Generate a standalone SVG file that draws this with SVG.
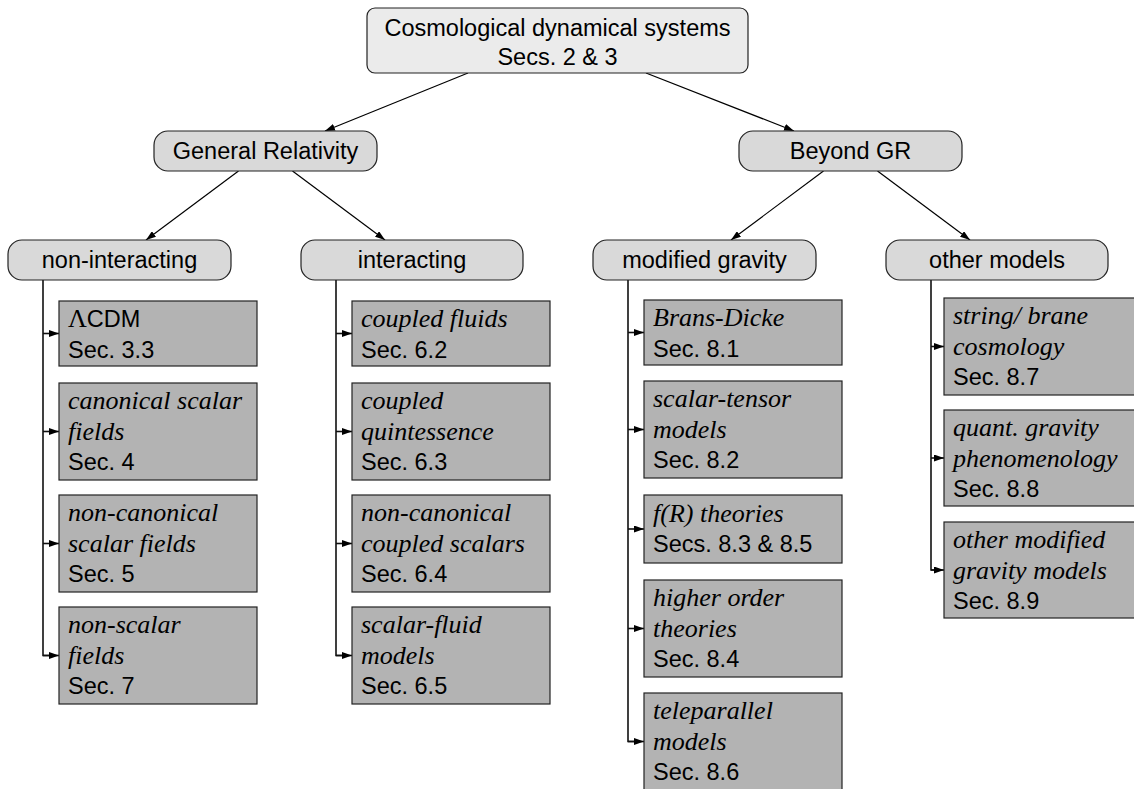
<svg xmlns="http://www.w3.org/2000/svg" width="1134" height="789" viewBox="0 0 1134 789">
<defs>
<style>
.root{fill:#ebebeb;stroke:#222;stroke-width:1.2}
.mid{fill:#d9d9d9;stroke:#222;stroke-width:1.2}
.leaf{fill:#b3b3b3;stroke:#222;stroke-width:1.2}
.sans{font-family:"Liberation Sans",Arial,sans-serif;font-size:23.5px;fill:#000}
.it{font-family:"Liberation Serif","Times New Roman",serif;font-style:italic;font-size:26px;fill:#000}
.c{text-anchor:middle}
.ln{stroke:#000;stroke-width:1.2;fill:none}
.tr{stroke:#111;stroke-width:1.6;fill:none}
</style>
<marker id="ah" markerUnits="userSpaceOnUse" markerWidth="10" markerHeight="7" refX="10" refY="3.5" orient="auto">
<path d="M0,0 L10,3.5 L0,7 z" fill="#000"/>
</marker>
<marker id="sh" markerUnits="userSpaceOnUse" markerWidth="10" markerHeight="7" refX="10" refY="3.5" orient="auto">
<path d="M0,0 L10,3.5 L0,7 z" fill="#000"/>
</marker>
</defs>

<g id="connectors">
<line class="ln" x1="468" y1="73" x2="325" y2="131" marker-end="url(#ah)"/>
<line class="ln" x1="646" y1="73" x2="794" y2="131" marker-end="url(#ah)"/>
<line class="ln" x1="238.5" y1="171" x2="146" y2="240" marker-end="url(#ah)"/>
<line class="ln" x1="292.5" y1="171" x2="385" y2="240" marker-end="url(#ah)"/>
<line class="ln" x1="823.5" y1="171" x2="731" y2="240" marker-end="url(#ah)"/>
<line class="ln" x1="877.5" y1="171" x2="970" y2="240" marker-end="url(#ah)"/>
<!-- col1 -->
<path class="tr" d="M43,280 V655.5 H55"/>
<line class="tr" x1="43" y1="333.5" x2="59" y2="333.5" marker-end="url(#sh)"/>
<line class="tr" x1="43" y1="431.5" x2="59" y2="431.5" marker-end="url(#sh)"/>
<line class="tr" x1="43" y1="543.5" x2="59" y2="543.5" marker-end="url(#sh)"/>
<line class="tr" x1="43" y1="655.5" x2="59" y2="655.5" marker-end="url(#sh)"/>
<!-- col2 -->
<path class="tr" d="M336,280 V655.5 H348"/>
<line class="tr" x1="336" y1="333.5" x2="352" y2="333.5" marker-end="url(#sh)"/>
<line class="tr" x1="336" y1="431.5" x2="352" y2="431.5" marker-end="url(#sh)"/>
<line class="tr" x1="336" y1="543.5" x2="352" y2="543.5" marker-end="url(#sh)"/>
<line class="tr" x1="336" y1="655.5" x2="352" y2="655.5" marker-end="url(#sh)"/>
<!-- col3 -->
<path class="tr" d="M628,280 V741.5 H640"/>
<line class="tr" x1="628" y1="332.5" x2="644" y2="332.5" marker-end="url(#sh)"/>
<line class="tr" x1="628" y1="429.5" x2="644" y2="429.5" marker-end="url(#sh)"/>
<line class="tr" x1="628" y1="529" x2="644" y2="529" marker-end="url(#sh)"/>
<line class="tr" x1="628" y1="628.5" x2="644" y2="628.5" marker-end="url(#sh)"/>
<line class="tr" x1="628" y1="741.5" x2="644" y2="741.5" marker-end="url(#sh)"/>
<!-- col4 -->
<path class="tr" d="M931,280 V570 H940"/>
<line class="tr" x1="931" y1="346.5" x2="944" y2="346.5" marker-end="url(#sh)"/>
<line class="tr" x1="931" y1="458" x2="944" y2="458" marker-end="url(#sh)"/>
<line class="tr" x1="931" y1="570" x2="944" y2="570" marker-end="url(#sh)"/>
</g>

<g id="root">
<rect class="root" x="367" y="8" width="381" height="65" rx="8"/>
<text class="sans c" x="557.5" y="36">Cosmological dynamical systems</text>
<text class="sans c" x="557.5" y="65">Secs. 2 &amp; 3</text>
</g>
<g id="general-relativity">
<rect class="mid" x="154" y="131" width="223" height="40" rx="14"/>
<text class="sans c" x="265.5" y="159">General Relativity</text>
</g>
<g id="beyond-gr">
<rect class="mid" x="739" y="131" width="223" height="40" rx="14"/>
<text class="sans c" x="850.5" y="159">Beyond GR</text>
</g>
<g id="non-interacting">
<rect class="mid" x="8" y="240" width="223" height="40" rx="14"/>
<text class="sans c" x="119.5" y="268">non-interacting</text>
</g>
<g id="interacting">
<rect class="mid" x="301" y="240" width="222" height="40" rx="14"/>
<text class="sans c" x="412" y="268">interacting</text>
</g>
<g id="modified-gravity">
<rect class="mid" x="593" y="240" width="223" height="40" rx="14"/>
<text class="sans c" x="704.5" y="268">modified gravity</text>
</g>
<g id="other-models">
<rect class="mid" x="886" y="240" width="222" height="40" rx="14"/>
<text class="sans c" x="997" y="268">other models</text>
</g>

<!-- column 1 leaves -->
<g id="lcdm">
<rect class="leaf" x="59" y="301" width="198" height="65"/>
<text x="68" y="327"><tspan style="font-family:'Liberation Serif',serif;font-size:26px">Λ</tspan><tspan class="sans">CDM</tspan></text>
<text class="sans" x="68" y="357.5">Sec. 3.3</text>
</g>
<g id="canonical-scalar-fields">
<rect class="leaf" x="59" y="383" width="198" height="97"/>
<text class="it" x="68" y="409">canonical scalar</text>
<text class="it" x="68" y="439.5">fields</text>
<text class="sans" x="68" y="470">Sec. 4</text>
</g>
<g id="non-canonical-scalar-fields">
<rect class="leaf" x="59" y="495" width="198" height="97"/>
<text class="it" x="68" y="521">non-canonical</text>
<text class="it" x="68" y="551.5">scalar fields</text>
<text class="sans" x="68" y="582">Sec. 5</text>
</g>
<g id="non-scalar-fields">
<rect class="leaf" x="59" y="607" width="198" height="97"/>
<text class="it" x="68" y="633">non-scalar</text>
<text class="it" x="68" y="663.5">fields</text>
<text class="sans" x="68" y="694">Sec. 7</text>
</g>

<!-- column 2 leaves -->
<g id="coupled-fluids">
<rect class="leaf" x="352" y="301" width="198" height="65"/>
<text class="it" x="361" y="327">coupled fluids</text>
<text class="sans" x="361" y="357.5">Sec. 6.2</text>
</g>
<g id="coupled-quintessence">
<rect class="leaf" x="352" y="383" width="198" height="97"/>
<text class="it" x="361" y="409">coupled</text>
<text class="it" x="361" y="439.5">quintessence</text>
<text class="sans" x="361" y="470">Sec. 6.3</text>
</g>
<g id="non-canonical-coupled-scalars">
<rect class="leaf" x="352" y="495" width="198" height="97"/>
<text class="it" x="361" y="521">non-canonical</text>
<text class="it" x="361" y="551.5">coupled scalars</text>
<text class="sans" x="361" y="582">Sec. 6.4</text>
</g>
<g id="scalar-fluid-models">
<rect class="leaf" x="352" y="607" width="198" height="97"/>
<text class="it" x="361" y="633">scalar-fluid</text>
<text class="it" x="361" y="663.5">models</text>
<text class="sans" x="361" y="694">Sec. 6.5</text>
</g>

<!-- column 3 leaves -->
<g id="brans-dicke">
<rect class="leaf" x="644" y="300" width="198" height="65"/>
<text class="it" x="653" y="326">Brans-Dicke</text>
<text class="sans" x="653" y="356.5">Sec. 8.1</text>
</g>
<g id="scalar-tensor-models">
<rect class="leaf" x="644" y="381" width="198" height="97"/>
<text class="it" x="653" y="407">scalar-tensor</text>
<text class="it" x="653" y="437.5">models</text>
<text class="sans" x="653" y="468">Sec. 8.2</text>
</g>
<g id="f-r-theories">
<rect class="leaf" x="644" y="495" width="198" height="68"/>
<text class="it" x="653" y="522">f(R) theories</text>
<text class="sans" x="653" y="552">Secs. 8.3 &amp; 8.5</text>
</g>
<g id="higher-order-theories">
<rect class="leaf" x="644" y="580" width="198" height="97"/>
<text class="it" x="653" y="606">higher order</text>
<text class="it" x="653" y="636.5">theories</text>
<text class="sans" x="653" y="667">Sec. 8.4</text>
</g>
<g id="teleparallel-models">
<rect class="leaf" x="644" y="693" width="198" height="97"/>
<text class="it" x="653" y="719">teleparallel</text>
<text class="it" x="653" y="749.5">models</text>
<text class="sans" x="653" y="780">Sec. 8.6</text>
</g>

<!-- column 4 leaves -->
<g id="string-brane-cosmology">
<rect class="leaf" x="944" y="298" width="210" height="97"/>
<text class="it" x="953" y="324">string/ brane</text>
<text class="it" x="953" y="354.5">cosmology</text>
<text class="sans" x="953" y="385">Sec. 8.7</text>
</g>
<g id="quantum-gravity-phenomenology">
<rect class="leaf" x="944" y="410" width="210" height="96"/>
<text class="it" x="953" y="436">quant. gravity</text>
<text class="it" x="953" y="466.5">phenomenology</text>
<text class="sans" x="953" y="497">Sec. 8.8</text>
</g>
<g id="other-modified-gravity-models">
<rect class="leaf" x="944" y="522" width="210" height="96"/>
<text class="it" x="953" y="548">other modified</text>
<text class="it" x="953" y="578.5">gravity models</text>
<text class="sans" x="953" y="609">Sec. 8.9</text>
</g>
</svg>
